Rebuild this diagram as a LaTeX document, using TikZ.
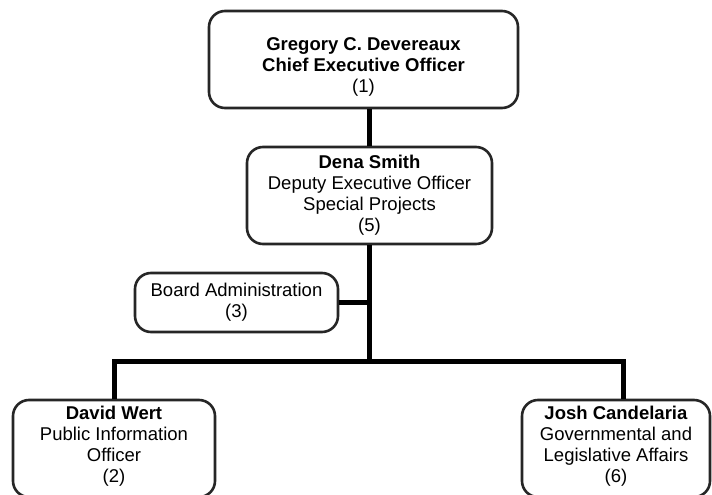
\documentclass[tikz,border=0pt]{standalone}
\usepackage{fontspec}
\setmainfont{Liberation Sans}
\usepackage{tikz}
\usetikzlibrary{calc,positioning}
\definecolor{boxline}{RGB}{38,38,38}
\tikzset{
  orgbox/.style={draw=boxline, line width=2.6pt, rounded corners=16pt, fill=white,
    align=center, inner sep=0pt, font=\fontsize{18.5}{21}\selectfont},
  orglink/.style={black, line width=5pt}
}

\begin{document}
\begin{tikzpicture}[x=1pt,y=-1pt]
\clip (0,0) rectangle (712,495);
\useasboundingbox (0,0) rectangle (712,495);

% boxes
\node[orgbox, minimum width=309pt, minimum height=97pt] (ceo) at (363.5,59.5)
  {\rule{0pt}{27pt}\textbf{Gregory C. Devereaux}\\ \textbf{Chief Executive Officer}\\ (1)};
\node[orgbox, minimum width=245pt, minimum height=97pt] (dena) at (369.5,195.5)
  {\textbf{Dena Smith}\\ Deputy Executive Officer\\ Special Projects\\ (5)};
\node[orgbox, minimum width=203pt, minimum height=59pt] (board) at (236.5,302.5)
  {Board Administration\\ (3)};
\node[orgbox, minimum width=202pt, minimum height=97pt] (david) at (114,448.5)
  {\textbf{David Wert}\\ Public Information\\ Officer\\ (2)\rule[-8pt]{0pt}{0pt}};
\node[orgbox, minimum width=188pt, minimum height=97pt] (josh) at (616,448.5)
  {\textbf{Josh Candelaria}\\ Governmental and\\ Legislative Affairs\\ (6)\rule[-8pt]{0pt}{0pt}};

\coordinate (hub) at ($(dena.south)+(0,116)$);
\coordinate (joshtop) at ($(josh.north)+(7,0)$);

% connectors
\draw[orglink] (dena.north) -- (dena.north |- ceo.south);
\draw[orglink] (dena.south) -- (hub);
\draw[orglink] (board.east) -- (board.east -| hub);
\draw[orglink, line cap=rect] (david.north |- hub) -- (joshtop |- hub);
\draw[orglink] (david.north |- hub) -- (david.north);
\draw[orglink] (joshtop |- hub) -- (joshtop);
\end{tikzpicture}
\end{document}
